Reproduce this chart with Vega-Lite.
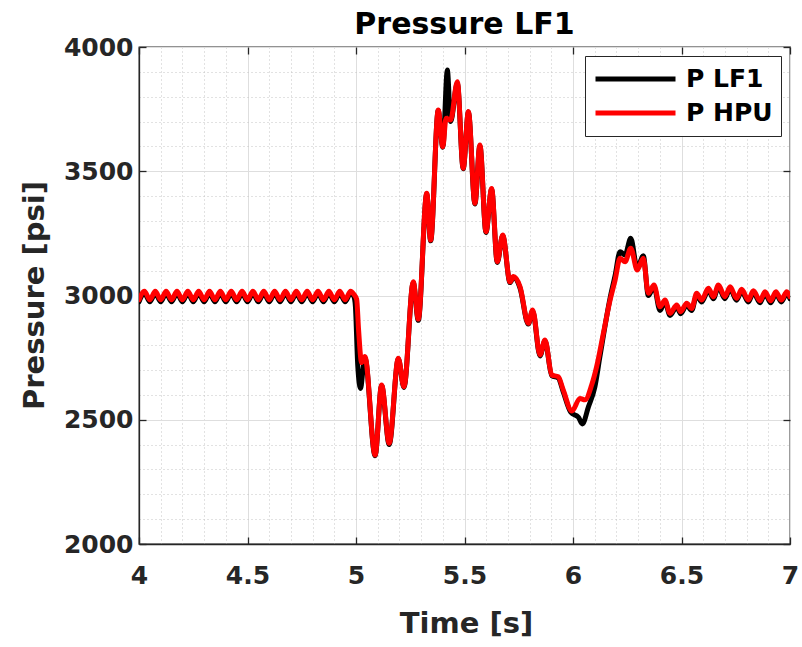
{
  "$schema": "https://vega.github.io/schema/vega-lite/v6.json",
  "width": 651,
  "height": 497,
  "autosize": {"type": "none"},
  "padding": {"left": 139, "top": 47, "right": 12, "bottom": 103},
  "background": "white",
  "title": {"text": "Pressure LF1", "font": "DejaVu Sans", "fontSize": 30, "fontWeight": "bold", "color": "black", "offset": 14, "baseline": "alphabetic", "anchor": "middle", "frame": "group", "dy": 43},
  "config": {
    "view": {"stroke": "#262626", "strokeWidth": 1.3},
    "font": "DejaVu Sans",
    "legend": {
      "orient": "none", "legendX": 446, "legendY": 9, "title": null,
      "symbolType": "stroke", "symbolSize": 6400, "symbolStrokeWidth": 5,
      "labelFont": "DejaVu Sans", "labelFontSize": 25, "labelFontWeight": "bold", "labelColor": "black",
      "strokeColor": "#262626", "strokeWidth": 1, "fillColor": "white",
      "padding": 8, "rowPadding": 4, "labelOffset": 8, "clipHeight": 30, "cornerRadius": 0
    }
  },
  "datasets": {
    "lf1": [
      {"t":4,"p":2975},{"t":4.025,"p":3009},{"t":4.05,"p":2975},{"t":4.075,"p":3009},{"t":4.1,"p":2975},{"t":4.125,"p":3009},{"t":4.15,"p":2975},{"t":4.175,"p":3009},{"t":4.2,"p":2975},{"t":4.225,"p":3009},{"t":4.25,"p":2975},{"t":4.275,"p":3009},{"t":4.3,"p":2975},{"t":4.325,"p":3009},{"t":4.35,"p":2975},{"t":4.375,"p":3009},{"t":4.4,"p":2975},{"t":4.425,"p":3009},{"t":4.45,"p":2975},{"t":4.475,"p":3009},{"t":4.5,"p":2975},{"t":4.525,"p":3009},{"t":4.55,"p":2975},{"t":4.575,"p":3009},{"t":4.6,"p":2975},{"t":4.625,"p":3009},{"t":4.65,"p":2975},{"t":4.675,"p":3009},{"t":4.7,"p":2975},{"t":4.725,"p":3009},{"t":4.75,"p":2975},{"t":4.775,"p":3009},{"t":4.8,"p":2975},{"t":4.825,"p":3009},{"t":4.85,"p":2975},{"t":4.875,"p":3009},{"t":4.9,"p":2975},{"t":4.925,"p":3009},{"t":4.95,"p":2975},{"t":4.975,"p":3009},
      {"t":4.99,"p":2996},{"t":4.997,"p":2960},{"t":5.008,"p":2720},{"t":5.021,"p":2626},{"t":5.032,"p":2700},{"t":5.041,"p":2750},{"t":5.088,"p":2355},{"t":5.118,"p":2638},{"t":5.153,"p":2400},{"t":5.195,"p":2745},{"t":5.221,"p":2630},{"t":5.264,"p":3052},{"t":5.287,"p":2900},{"t":5.326,"p":3408},{"t":5.344,"p":3220},{"t":5.379,"p":3744},{"t":5.4,"p":3597},{"t":5.421,"p":3907},{"t":5.436,"p":3700},{"t":5.467,"p":3855},{"t":5.494,"p":3510},{"t":5.518,"p":3738},{"t":5.548,"p":3368},{"t":5.571,"p":3603},{"t":5.599,"p":3254},{"t":5.625,"p":3428},{"t":5.651,"p":3133},{"t":5.676,"p":3240},{"t":5.71,"p":3052},{"t":5.725,"p":3073},{"t":5.756,"p":3030},{"t":5.794,"p":2885},{"t":5.814,"p":2938},{"t":5.848,"p":2757},{"t":5.871,"p":2818},{"t":5.902,"p":2677},{"t":5.932,"p":2668},{"t":5.955,"p":2612},{"t":5.99,"p":2530},{"t":6.025,"p":2510},{"t":6.043,"p":2483},{"t":6.071,"p":2552},{"t":6.101,"p":2633},{"t":6.124,"p":2754},{"t":6.171,"p":2990},{"t":6.194,"p":3080},{"t":6.217,"p":3176},{"t":6.24,"p":3163},{"t":6.266,"p":3230},{"t":6.296,"p":3110},{"t":6.324,"p":3160},{"t":6.347,"p":3000},{"t":6.373,"p":3035},{"t":6.401,"p":2940},{"t":6.424,"p":2975},{"t":6.447,"p":2920},{"t":6.478,"p":2954},{"t":6.496,"p":2927},{"t":6.524,"p":2961},{"t":6.547,"p":2940},{"t":6.57,"p":3001},{"t":6.593,"p":2974},{"t":6.624,"p":3021},{"t":6.647,"p":2987},{"t":6.67,"p":3034},{"t":6.7,"p":2987},{"t":6.724,"p":3027},{"t":6.754,"p":2981},{"t":6.777,"p":3017},{"t":6.808,"p":2974},{"t":6.831,"p":3011},{"t":6.862,"p":2971},{"t":6.885,"p":3007},{"t":6.911,"p":2971},{"t":6.935,"p":3007},{"t":6.96,"p":2974},{"t":6.985,"p":3007},{"t":7,"p":2987}
    ],
    "hpu": [
      {"t":4,"p":2983},{"t":4.025,"p":3017},{"t":4.05,"p":2983},{"t":4.075,"p":3017},{"t":4.1,"p":2983},{"t":4.125,"p":3017},{"t":4.15,"p":2983},{"t":4.175,"p":3017},{"t":4.2,"p":2983},{"t":4.225,"p":3017},{"t":4.25,"p":2983},{"t":4.275,"p":3017},{"t":4.3,"p":2983},{"t":4.325,"p":3017},{"t":4.35,"p":2983},{"t":4.375,"p":3017},{"t":4.4,"p":2983},{"t":4.425,"p":3017},{"t":4.45,"p":2983},{"t":4.475,"p":3017},{"t":4.5,"p":2983},{"t":4.525,"p":3017},{"t":4.55,"p":2983},{"t":4.575,"p":3017},{"t":4.6,"p":2983},{"t":4.625,"p":3017},{"t":4.65,"p":2983},{"t":4.675,"p":3017},{"t":4.7,"p":2983},{"t":4.725,"p":3017},{"t":4.75,"p":2983},{"t":4.775,"p":3017},{"t":4.8,"p":2983},{"t":4.825,"p":3017},{"t":4.85,"p":2983},{"t":4.875,"p":3017},{"t":4.9,"p":2983},{"t":4.925,"p":3017},{"t":4.95,"p":2983},{"t":4.975,"p":3017},
      {"t":4.99,"p":3005},{"t":5.003,"p":2985},{"t":5.012,"p":2860},{"t":5.026,"p":2730},{"t":5.041,"p":2755},{"t":5.088,"p":2358},{"t":5.118,"p":2640},{"t":5.153,"p":2405},{"t":5.195,"p":2747},{"t":5.221,"p":2633},{"t":5.264,"p":3055},{"t":5.287,"p":2905},{"t":5.326,"p":3411},{"t":5.344,"p":3223},{"t":5.379,"p":3746},{"t":5.4,"p":3599},{"t":5.415,"p":3713},{"t":5.436,"p":3706},{"t":5.467,"p":3860},{"t":5.494,"p":3512},{"t":5.518,"p":3740},{"t":5.548,"p":3371},{"t":5.571,"p":3606},{"t":5.599,"p":3257},{"t":5.625,"p":3431},{"t":5.651,"p":3136},{"t":5.676,"p":3243},{"t":5.71,"p":3055},{"t":5.725,"p":3076},{"t":5.756,"p":3035},{"t":5.794,"p":2888},{"t":5.814,"p":2942},{"t":5.848,"p":2761},{"t":5.871,"p":2821},{"t":5.902,"p":2680},{"t":5.932,"p":2673},{"t":5.955,"p":2620},{"t":5.995,"p":2535},{"t":6.032,"p":2586},{"t":6.055,"p":2580},{"t":6.086,"p":2640},{"t":6.109,"p":2714},{"t":6.14,"p":2848},{"t":6.171,"p":2982},{"t":6.194,"p":3062},{"t":6.217,"p":3150},{"t":6.24,"p":3136},{"t":6.266,"p":3190},{"t":6.296,"p":3103},{"t":6.324,"p":3150},{"t":6.347,"p":3009},{"t":6.373,"p":3042},{"t":6.401,"p":2955},{"t":6.424,"p":2982},{"t":6.447,"p":2928},{"t":6.478,"p":2962},{"t":6.496,"p":2935},{"t":6.524,"p":2969},{"t":6.547,"p":2948},{"t":6.57,"p":3009},{"t":6.593,"p":2982},{"t":6.624,"p":3029},{"t":6.647,"p":2995},{"t":6.67,"p":3042},{"t":6.7,"p":2995},{"t":6.724,"p":3035},{"t":6.754,"p":2989},{"t":6.777,"p":3025},{"t":6.808,"p":2982},{"t":6.831,"p":3019},{"t":6.862,"p":2979},{"t":6.885,"p":3015},{"t":6.911,"p":2979},{"t":6.935,"p":3015},{"t":6.96,"p":2982},{"t":6.985,"p":3015},{"t":7,"p":2995}
    ]
  },
  "resolve": {"axis": {"x": "independent", "y": "independent"}},
  "layer": [
    {
      "data": {"name": "lf1"},
      "mark": {"type": "line", "opacity": 0},
      "encoding": {
        "x": {"field": "t", "type": "quantitative", "scale": {"domain": [4, 7], "nice": false, "zero": false},
          "axis": {"orient": "bottom", "values": [4.1,4.2,4.3,4.4,4.6,4.7,4.8,4.9,5.1,5.2,5.3,5.4,5.6,5.7,5.8,5.9,6.1,6.2,6.3,6.4,6.6,6.7,6.8,6.9], "labels": false, "ticks": false, "domain": false, "title": null, "grid": true, "gridColor": "#c4c4c4", "gridWidth": 1, "gridDash": [1, 3]}},
        "y": {"field": "p", "type": "quantitative", "scale": {"domain": [2000, 4000], "nice": false, "zero": false},
          "axis": {"orient": "left", "values": [2100,2200,2300,2400,2600,2700,2800,2900,3100,3200,3300,3400,3600,3700,3800,3900], "labels": false, "ticks": false, "domain": false, "title": null, "grid": true, "gridColor": "#c4c4c4", "gridWidth": 1, "gridDash": [1, 3]}}
      }
    },
    {
      "data": {"name": "lf1"},
      "mark": {"type": "line", "interpolate": "monotone", "strokeWidth": 5, "clip": true, "strokeJoin": "round", "strokeCap": "round"},
      "encoding": {
        "x": {"field": "t", "type": "quantitative", "scale": {"domain": [4, 7], "nice": false, "zero": false},
          "axis": {"orient": "bottom", "values": [4, 4.5, 5, 5.5, 6, 6.5, 7], "format": "~g", "labelFont": "DejaVu Sans", "labelFontSize": 25, "labelFontWeight": "bold", "labelColor": "#262626", "labelPadding": 46, "labelBaseline": "alphabetic", "labelFlush": false, "labelOverlap": false, "tickSize": -7, "tickColor": "#262626", "tickWidth": 1.3, "domainColor": "#262626", "domainWidth": 1.3, "grid": true, "gridColor": "#dedede", "gridWidth": 1, "title": "Time [s]", "titleFont": "DejaVu Sans", "titleFontSize": 29, "titleFontWeight": "bold", "titleColor": "#262626", "titleX": 327, "titleY": 88, "titleBaseline": "alphabetic", "titleAlign": "center"}},
        "y": {"field": "p", "type": "quantitative", "scale": {"domain": [2000, 4000], "nice": false, "zero": false},
          "axis": {"orient": "left", "values": [2000, 2500, 3000, 3500, 4000], "format": "d", "labelFont": "DejaVu Sans", "labelFontSize": 25, "labelFontWeight": "bold", "labelColor": "#262626", "labelPadding": 13, "labelBaseline": "middle", "labelFlush": false, "labelOverlap": false, "tickSize": -7, "tickColor": "#262626", "tickWidth": 1.3, "domainColor": "#262626", "domainWidth": 1.3, "grid": true, "gridColor": "#dedede", "gridWidth": 1, "title": "Pressure [psi]", "titleFont": "DejaVu Sans", "titleFontSize": 29, "titleFontWeight": "bold", "titleColor": "#262626", "titleX": -96, "titleY": 248, "titleAngle": 270, "titleBaseline": "alphabetic", "titleAlign": "center"}},
        "color": {"datum": "P LF1", "type": "nominal", "scale": {"domain": ["P LF1", "P HPU"], "range": ["black", "red"]}}
      }
    },
    {
      "data": {"name": "hpu"},
      "mark": {"type": "line", "interpolate": "monotone", "strokeWidth": 5, "clip": true, "strokeJoin": "round", "strokeCap": "round"},
      "encoding": {
        "x": {"field": "t", "type": "quantitative", "scale": {"domain": [4, 7], "nice": false, "zero": false},
          "axis": {"orient": "top", "values": [4, 4.5, 5, 5.5, 6, 6.5, 7], "labels": false, "domain": false, "grid": false, "title": null, "tickSize": -7, "tickColor": "#262626", "tickWidth": 1.3, "minExtent": 0, "maxExtent": 0, "labelPadding": 0}},
        "y": {"field": "p", "type": "quantitative", "scale": {"domain": [2000, 4000], "nice": false, "zero": false},
          "axis": {"orient": "right", "values": [2000, 2500, 3000, 3500, 4000], "labels": false, "domain": false, "grid": false, "title": null, "tickSize": -7, "tickColor": "#262626", "tickWidth": 1.3, "minExtent": 0, "maxExtent": 0, "labelPadding": 0}},
        "color": {"datum": "P HPU", "type": "nominal", "scale": {"domain": ["P LF1", "P HPU"], "range": ["black", "red"]}}
      }
    }
  ]
}
